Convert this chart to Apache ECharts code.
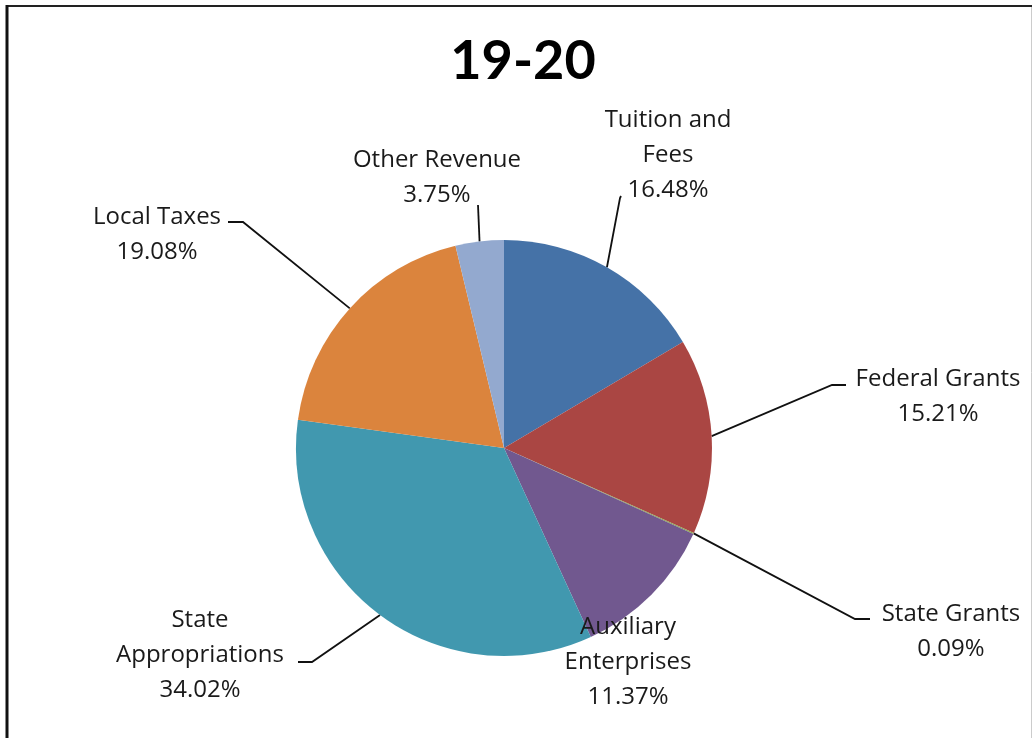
<!DOCTYPE html>
<html>
<head>
<meta charset="utf-8">
<script src="https://cdn.jsdelivr.net/npm/echarts@6/dist/echarts.min.js"></script>
<style>
html,body{margin:0;padding:0;background:#fff;}
#chart{width:1032px;height:738px;}
</style>
</head>
<body>
<div id="chart"></div>
<script>
// ---- data ----
const chartTitle = '19-20';
const categories = ['Tuition and Fees', 'Federal Grants', 'State Grants', 'Auxiliary Enterprises', 'State Appropriations', 'Local Taxes', 'Other Revenue'];
const shares = [16.48, 15.21, 0.09, 11.37, 34.02, 19.08, 3.75];
const sliceColors = ['#4572A7', '#AA4643', '#89A54E', '#71588F', '#4198AF', '#DB843D', '#93A9CF'];
const wrappedNames = ['Tuition and\nFees', 'Federal Grants', 'State Grants', 'Auxiliary\nEnterprises', 'State\nAppropriations', 'Local Taxes', 'Other Revenue'];

// ---- label layout (positions of label text and leader-line elbows) ----
const labelPlacement = [
  { x: 668, y: 155, line: [[620, 198], [621, 196]] },
  { x: 938, y: 397, line: [[832, 385], [846, 385]] },
  { x: 951, y: 632, line: [[855, 619], [870, 619]] },
  { x: 628, y: 662, line: null },
  { x: 200, y: 655, line: [[312, 662], [298, 662]] },
  { x: 157, y: 235, line: [[243, 222], [228, 222]] },
  { x: 437, y: 178, line: [[478, 205], [478, 205]] }
];

const chart = echarts.init(document.getElementById('chart'), null, { renderer: 'canvas' });
const FONT = '"Open Sans"';

const option = {
  animation: false,
  backgroundColor: '#fff',
  title: {
    text: chartTitle,
    left: 518,
    top: 30,
    textAlign: 'center',
    textStyle: { fontFamily: 'Lato', fontWeight: 'bold', fontSize: 54, color: '#000' }
  },
  graphic: [
    { type: 'line', shape: { x1: 7, y1: 6, x2: 1032, y2: 6 }, style: { stroke: '#222', lineWidth: 2 } },
    { type: 'line', shape: { x1: 7, y1: 5, x2: 7, y2: 738 }, style: { stroke: '#111', lineWidth: 3 } },
    { type: 'line', shape: { x1: 1031.5, y1: 7, x2: 1031.5, y2: 738 }, style: { stroke: '#ccc', lineWidth: 1 } }
  ],
  series: [{
    type: 'pie',
    center: [504, 448],
    radius: 208,
    startAngle: 90,
    clockwise: true,
    avoidLabelOverlap: false,
    itemStyle: { borderWidth: 0 },
    label: {
      show: true,
      position: 'outside',
      fontFamily: FONT,
      fontSize: 24,
      lineHeight: 35,
      color: '#1a1a1a',
      align: 'center',
      formatter: p => wrappedNames[p.dataIndex] + '\n' + shares[p.dataIndex].toFixed(2) + '%'
    },
    labelLine: { show: true, lineStyle: { color: '#111', width: 1.8 }, smooth: false },
    labelLayout: function (params) {
      const lp = labelPlacement[params.dataIndex];
      const res = { x: lp.x, y: lp.y, align: 'center', verticalAlign: 'middle' };
      if (lp.line && params.labelLinePoints) {
        res.labelLinePoints = [params.labelLinePoints[0], lp.line[0], lp.line[1]];
      }
      return res;
    },
    emphasis: { disabled: true },
    data: categories.map((c, i) => ({
      name: c,
      value: shares[i],
      itemStyle: { color: sliceColors[i] },
      labelLine: { show: labelPlacement[i].line !== null }
    }))
  }]
};
chart.setOption(option);
</script>
</body>
</html>
